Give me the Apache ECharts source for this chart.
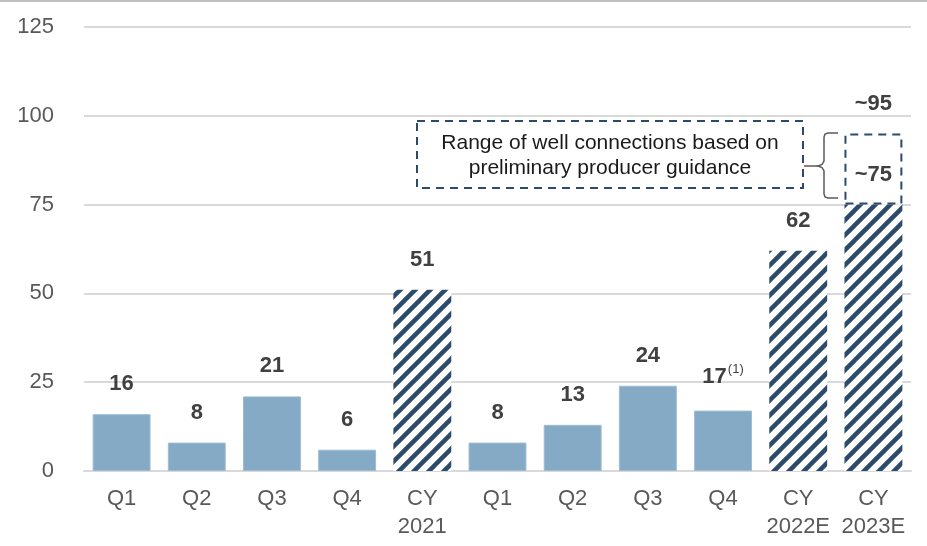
<!DOCTYPE html>
<html>
<head>
<meta charset="utf-8">
<script src="https://cdn.jsdelivr.net/npm/echarts@6/dist/echarts.min.js"></script>
<style>
html,body{margin:0;padding:0;background:#fff;}
#chart{width:927px;height:546px;}
</style>
</head>
<body>
<div id="chart"></div>
<script>
// data
var categories = ['Q1', 'Q2', 'Q3', 'Q4', 'CY\n2021', 'Q1', 'Q2', 'Q3', 'Q4', 'CY\n2022E', 'CY\n2023E'];
var quarterValues = [16, 8, 21, 6, '-', 8, 13, 24, 17, '-', '-'];
var annualValues = ['-', '-', '-', '-', 51, '-', '-', '-', '-', 62, 75];
var rangeValues = ['-', '-', '-', '-', '-', '-', '-', '-', '-', '-', 20]; // 75 -> 95
var annualLabels = ['', '', '', '', '51', '', '', '', '', '62', '~75'];
var rangeLabels = ['', '', '', '', '', '', '', '', '', '', '~95'];
var footnoteIndex = 8;

var navy = '#2C4A6A';
var fontFam = 'Liberation Sans, Arial, sans-serif';

// diagonal hatch tile
function hatch() {
  var c = document.createElement('canvas');
  var s = 15;
  c.width = s; c.height = s;
  var ctx = c.getContext('2d');
  ctx.fillStyle = '#fff';
  ctx.fillRect(0, 0, s, s);
  ctx.strokeStyle = navy;
  ctx.lineWidth = 4.5;
  for (var i = -s; i <= s; i += s) {
    ctx.beginPath();
    ctx.moveTo(i - 2, s + 2);
    ctx.lineTo(i + s + 2, -2);
    ctx.stroke();
  }
  return c;
}

var labelBase = {
  show: true,
  position: 'top',
  distance: 19,
  color: '#404040',
  fontFamily: fontFam,
  fontSize: 22,
  fontWeight: 'bold'
};

var myChart = echarts.init(document.getElementById('chart'));
var option = {
  animation: false,
  grid: { left: 84, right: 16, top: 27, bottom: 75, containLabel: false },
  xAxis: {
    type: 'category',
    data: categories,
    axisTick: { show: false },
    axisLine: { lineStyle: { color: '#D9D9D9', width: 2 } },
    axisLabel: { color: '#595959', fontFamily: fontFam, fontSize: 22, lineHeight: 28, margin: 14, interval: 0 }
  },
  yAxis: {
    type: 'value',
    min: 0, max: 125, interval: 25,
    axisLine: { show: false },
    axisTick: { show: false },
    axisLabel: { color: '#595959', fontFamily: fontFam, fontSize: 22, margin: 30 },
    splitLine: { lineStyle: { color: '#D9D9D9', width: 2 } }
  },
  series: [
    {
      name: 'quarter',
      type: 'bar',
      stack: 'all',
      barWidth: '77%',
      data: quarterValues,
      itemStyle: { color: '#84AAC6', borderColor: '#9DBCD3', borderWidth: 1 },
      label: Object.assign({}, labelBase, {
        formatter: function (p) {
          if (p.dataIndex === footnoteIndex) return '{v|' + p.value + '}{s|(1)}';
          return String(p.value);
        },
        rich: {
          v: { color: '#404040', fontFamily: fontFam, fontSize: 22, fontWeight: 'bold' },
          s: { color: '#404040', fontFamily: fontFam, fontSize: 13, fontWeight: 'normal', padding: [0, 0, 16, 1] }
        }
      })
    },
    {
      name: 'annual',
      type: 'bar',
      stack: 'all',
      barWidth: '77%',
      data: annualValues,
      itemStyle: { color: { image: hatch(), repeat: 'repeat' } },
      label: Object.assign({}, labelBase, {
        formatter: function (p) { return annualLabels[p.dataIndex]; }
      })
    },
    {
      name: 'range',
      type: 'bar',
      stack: 'all',
      barWidth: '77%',
      data: rangeValues,
      itemStyle: { color: 'rgba(255,255,255,0)', borderColor: navy, borderWidth: 2, borderType: [8, 6] },
      label: Object.assign({}, labelBase, {
        formatter: function (p) { return rangeLabels[p.dataIndex]; }
      })
    }
  ],
  graphic: [
    { type: 'line', shape: { x1: 0, y1: 1, x2: 927, y2: 1 }, style: { stroke: '#BFBFBF', lineWidth: 2 } },
    {
      type: 'rect',
      shape: { x: 417, y: 121, width: 386, height: 67 },
      style: { fill: '#fff', stroke: navy, lineWidth: 2, lineDash: [8, 6] }
    },
    {
      type: 'text',
      x: 610, y: 156,
      style: {
        text: 'Range of well connections based on\npreliminary producer guidance',
        fill: '#1A1A1A',
        font: '21px ' + fontFam,
        lineHeight: 25,
        align: 'center',
        verticalAlign: 'middle'
      }
    },
    { type: 'line', shape: { x1: 804, y1: 166, x2: 818, y2: 166 }, style: { stroke: '#595959', lineWidth: 1.5 } },
    {
      type: 'polyline',
      shape: { points: [[838, 133], [828, 133], [825, 134], [824, 137], [824, 161], [822, 164.5], [818, 166], [822, 167.5], [824, 171], [824, 194], [825, 197], [828, 198], [838, 198]] },
      style: { fill: 'none', stroke: '#595959', lineWidth: 1.5 }
    }
  ]
};
myChart.setOption(option);
</script>
</body>
</html>
